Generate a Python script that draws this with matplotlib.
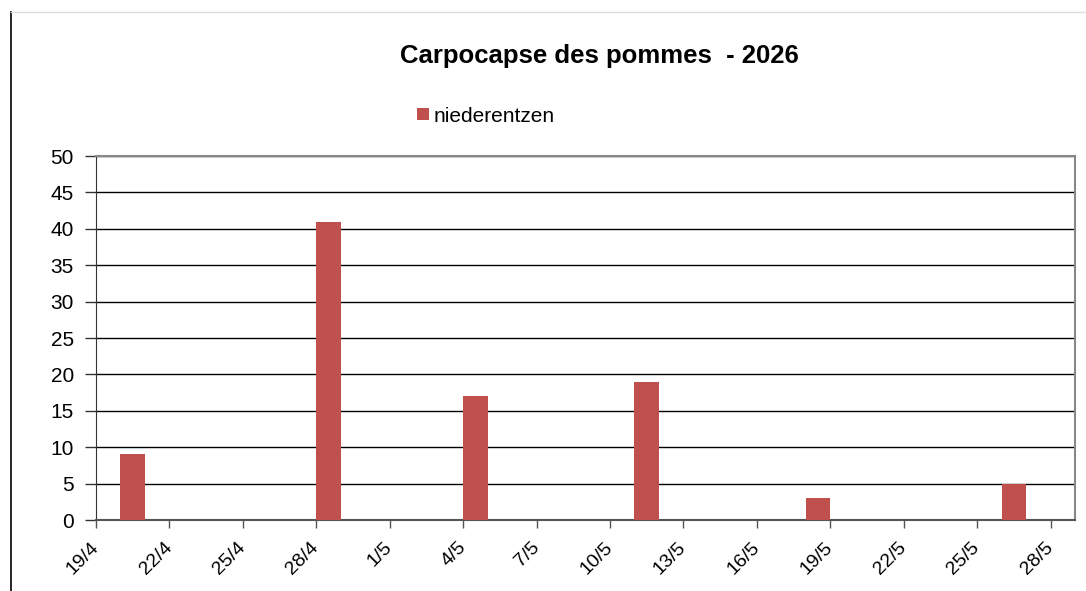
import datetime as dt
import matplotlib
matplotlib.use("Agg")
import matplotlib.pyplot as plt
import matplotlib.dates as mdates
import matplotlib.transforms as mtransforms
from matplotlib.ticker import FuncFormatter
from matplotlib.lines import Line2D

plt.rcParams['font.family'] = ['Liberation Sans', 'DejaVu Sans']

# données de piégeage
dates = ["2026-04-20", "2026-04-28", "2026-05-04", "2026-05-11", "2026-05-18", "2026-05-26"]
captures = [9, 41, 17, 19, 3, 5]
serie = "niederentzen"
titre = "Carpocapse des pommes  - 2026"


def main():
    jours = [dt.datetime.strptime(d, "%Y-%m-%d") for d in dates]

    fig = plt.figure(figsize=(10.86, 5.91), dpi=100)
    ax = fig.add_axes([96 / 1086, 71 / 591, 979 / 1086, 364 / 591])

    ax.bar(jours, captures, width=1.0, align='edge', color='#C0504D',
           edgecolor='none', label=serie, zorder=3)

    # axe des dates : 19/4 -> 29/5, un repère tous les 3 jours
    ax.set_xlim(dt.datetime(2026, 4, 19), dt.datetime(2026, 5, 29))
    ticks = [dt.datetime(2026, 4, 19) + dt.timedelta(days=3 * i) for i in range(14)]
    ax.set_xticks(ticks)
    ax.xaxis.set_major_formatter(FuncFormatter(
        lambda v, pos: f"{mdates.num2date(v).day}/{mdates.num2date(v).month}"))
    decal = mtransforms.ScaledTranslation(17 / 100, 0, fig.dpi_scale_trans)
    for lab in ax.get_xticklabels():
        lab.set_rotation(45)
        lab.set_ha('right')
        lab.set_va('center')
        lab.set_rotation_mode('anchor')
        lab.set_transform(lab.get_transform() + decal)

    ax.set_ylim(0, 50)
    ax.set_yticks(range(0, 51, 5))
    ax.yaxis.grid(True, color='black', linewidth=1.0, zorder=0)
    ax.set_axisbelow(True)

    ax.tick_params(axis='y', labelsize=15, length=8, width=1, color='#333333', pad=8)
    ax.tick_params(axis='x', labelsize=14, length=6, width=1, color='#555555', pad=12)

    for s in ['top', 'right']:
        ax.spines[s].set_color('#888888')
        ax.spines[s].set_linewidth(1.5)
    ax.spines['left'].set_color('#333333')
    ax.spines['bottom'].set_color('#555555')
    ax.spines['bottom'].set_linewidth(1.5)

    fig.text(599 / 1086, 1 - 56.5 / 591, titre, ha='center', va='center',
             fontsize=18.5, fontweight='bold')

    fig.legend(loc='center', bbox_to_anchor=(486 / 1086, 1 - 116 / 591),
               frameon=False, fontsize=15, handlelength=0.55, handleheight=0.55,
               handletextpad=0.25)

    # cadre du graphique (bord gauche et haut)
    fig.add_artist(Line2D([11 / 1086, 11 / 1086], [0, 1 - 12 / 591],
                          transform=fig.transFigure, color='black', lw=1.2))
    fig.add_artist(Line2D([11 / 1086, 1], [1 - 12 / 591, 1 - 12 / 591],
                          transform=fig.transFigure, color='#dddddd', lw=1))

    fig.savefig("out.png", dpi=100)
    plt.close(fig)


if __name__ == "__main__":
    main()
